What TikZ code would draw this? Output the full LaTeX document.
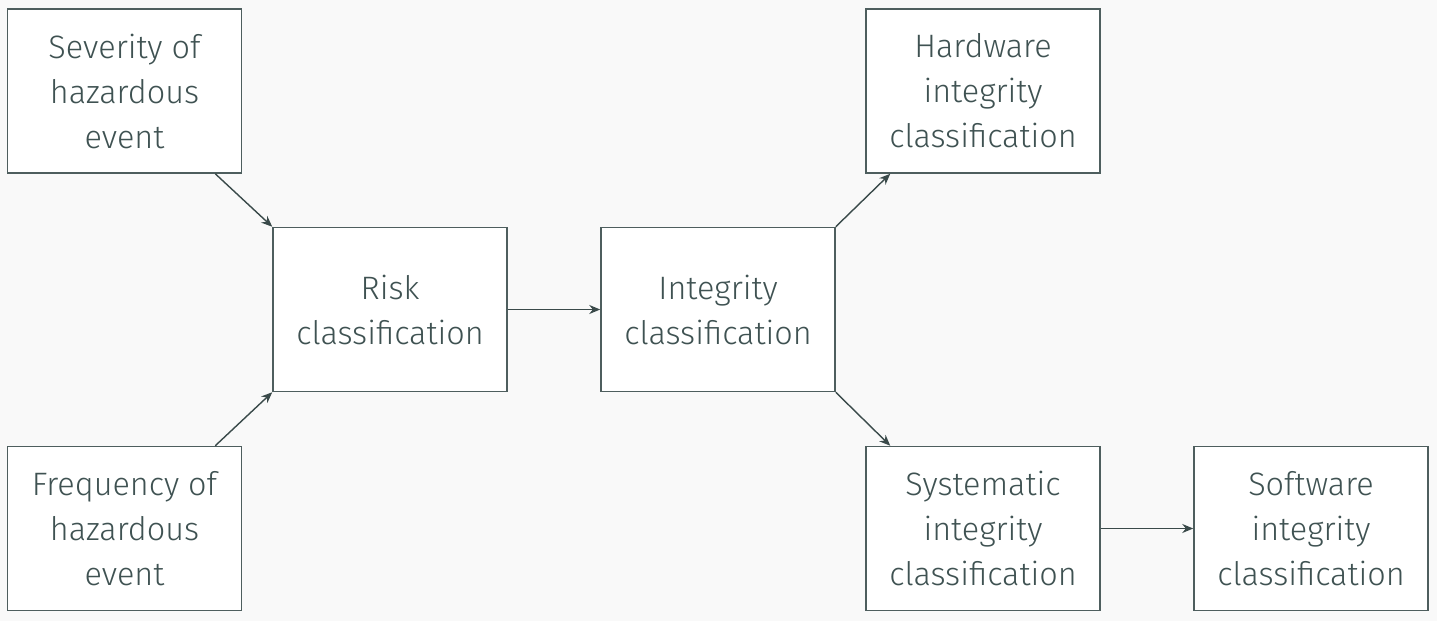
\documentclass[tikz,border=0pt]{standalone}
\usepackage{fontspec}
\setmainfont{Fira Sans}[UprightFont=* Light]
\usetikzlibrary{arrows.meta,calc}
\definecolor{bgc}{HTML}{F9F9F9}
\definecolor{linec}{HTML}{4E5E5E}
\definecolor{textc}{HTML}{3F5252}
\definecolor{arrc}{HTML}{3A4A4A}
\tikzset{
  box/.style={draw=linec, line width=1.5pt, fill=white, minimum width=234pt, minimum height=164pt,
    align=center, text=textc, font=\fontsize{32.4}{45}\selectfont, inner sep=0pt},
  conn/.style={draw=arrc, line width=1.4pt, -{Stealth[length=11pt,width=9pt]}}
}
\begin{document}
\begin{tikzpicture}[x=1pt,y=-1pt]
\path[fill=bgc] (0,0) rectangle (1437,621);
\useasboundingbox (0,0) rectangle (1437,621);
\node[box] (sev) at (124.5,91) {Severity of\\hazardous\\event};
\node[box] (freq) at (124.5,528.5) {Frequency of\\hazardous\\event};
\node[box] (risk) at (390,309.5) {Risk\\classification};
\node[box] (integ) at (718,309.5) {Integrity\\classification};
\node[box] (hw) at (983,91) {Hardware\\integrity\\classification};
\node[box] (sys) at (983,528.5) {Systematic\\integrity\\classification};
\node[box] (sw) at (1311,528.5) {Software\\integrity\\classification};
\draw[conn] ($(sev.south east)+(-27,0)$) -- (risk.north west);
\draw[conn] ($(freq.north east)+(-27,0)$) -- (risk.south west);
\draw[conn] (risk) -- (integ);
\draw[conn] (integ.north east) -- ($(hw.south west)+(25,0)$);
\draw[conn] (integ.south east) -- ($(sys.north west)+(25,0)$);
\draw[conn] (sys) -- (sw);
\end{tikzpicture}
\end{document}
